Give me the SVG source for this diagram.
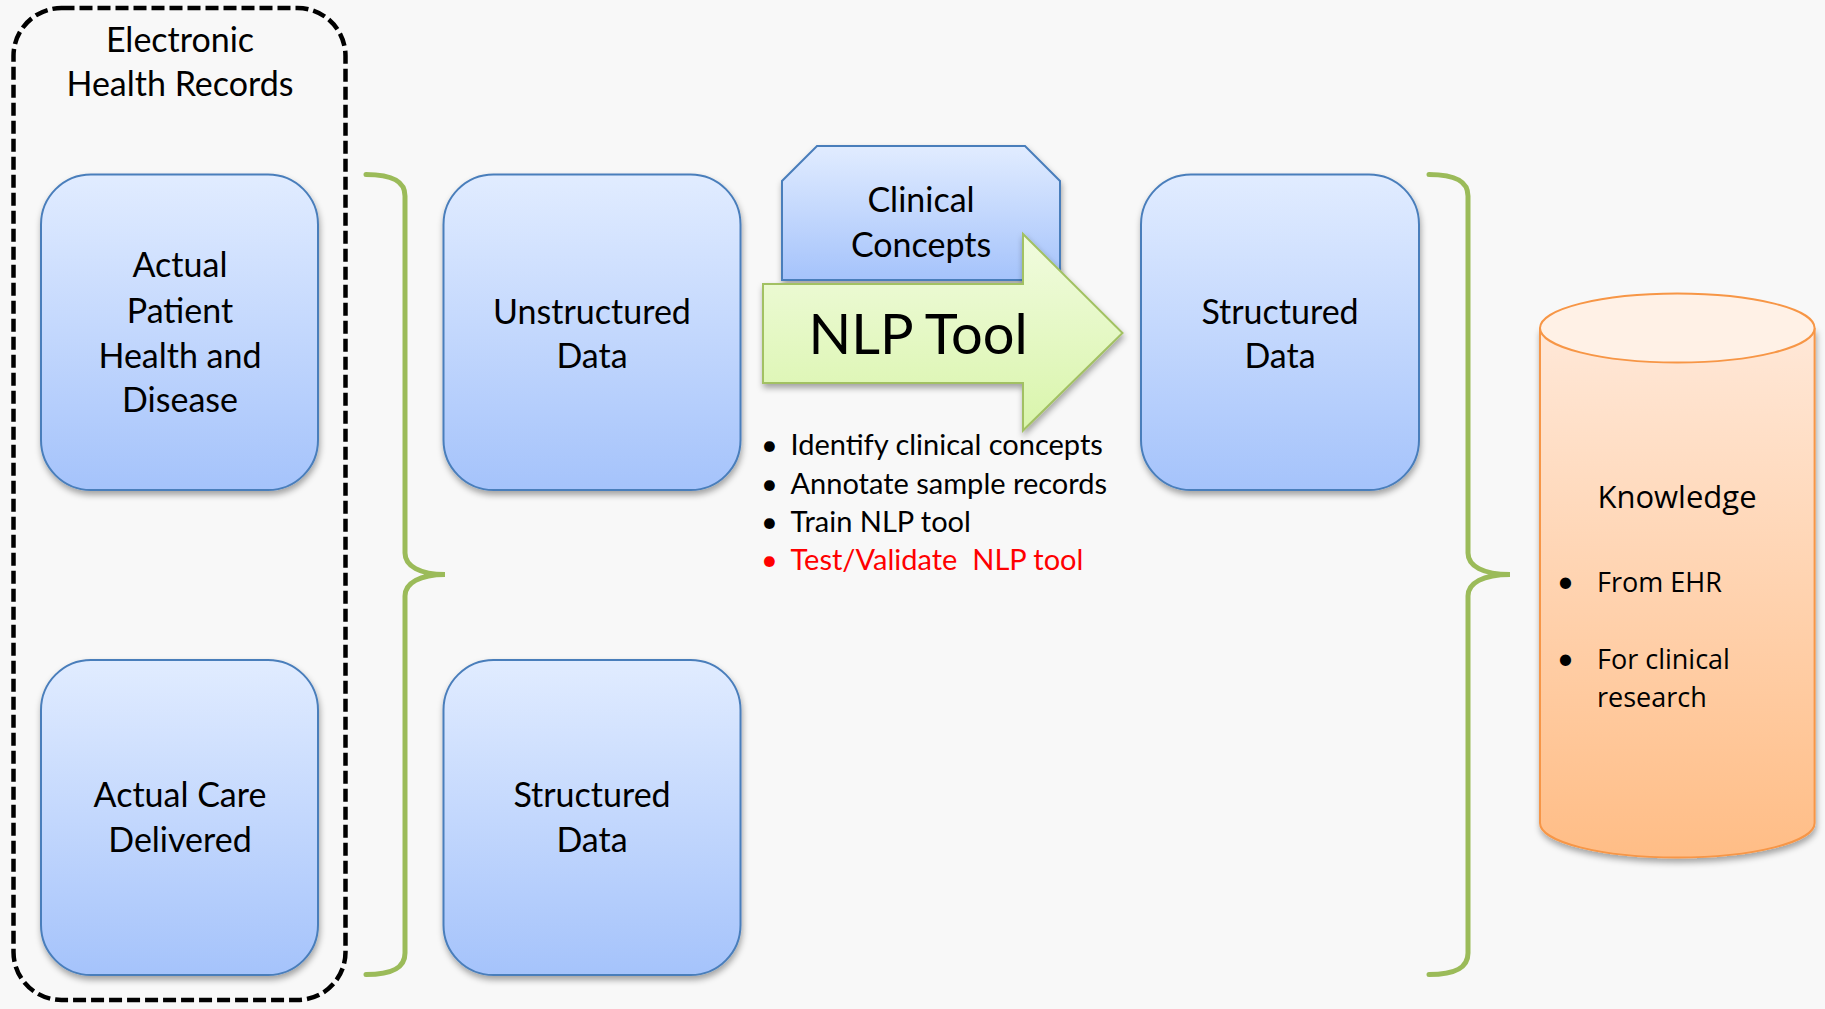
<svg xmlns="http://www.w3.org/2000/svg" width="1825" height="1009" viewBox="0 0 1825 1009">
<defs>
<linearGradient id="blueGrad" x1="0" y1="0" x2="0" y2="1">
<stop offset="0" stop-color="#E1ECFF"/>
<stop offset="1" stop-color="#A5C3FB"/>
</linearGradient>
<linearGradient id="greenGrad" x1="0" y1="0" x2="0" y2="1">
<stop offset="0" stop-color="#F1FBDF"/>
<stop offset="1" stop-color="#D9F5AB"/>
</linearGradient>
<linearGradient id="orangeGrad" x1="0" y1="0" x2="0" y2="1">
<stop offset="0" stop-color="#FFE8D8"/>
<stop offset="1" stop-color="#FFBD86"/>
</linearGradient>
<filter id="shadow" x="-10%" y="-10%" width="125%" height="125%">
<feDropShadow dx="1" dy="4" stdDeviation="3" flood-color="#000" flood-opacity="0.35"/>
</filter>
<style>
.box{fill:url(#blueGrad);stroke:#4A7EBB;stroke-width:2;filter:url(#shadow)}
.lbl{font-family:Lato,"Liberation Sans",sans-serif;font-size:34px;fill:#000;text-anchor:middle}
.brace{fill:none;stroke:#9BBB59;stroke-width:5;stroke-linecap:round}
.bul{font-family:Lato,"Liberation Sans",sans-serif;font-size:29px;fill:#000}
.kn{font-family:"Open Sans","Liberation Sans",sans-serif;fill:#000}
.dot{font-family:Lato,"Liberation Sans",sans-serif;font-size:30px;fill:#000;text-anchor:middle}
</style>
</defs>
<rect width="1825" height="1009" fill="#F8F8F8"/>

<g id="ehr">
<rect x="13.5" y="8" width="332" height="992" rx="48" ry="48" fill="none" stroke="#000" stroke-width="4.5" stroke-dasharray="13 5"/>
<text class="lbl" x="180" y="52">Electronic</text>
<text class="lbl" x="180" y="96">Health Records</text>
</g>

<g id="patient">
<rect class="box" x="41" y="174.5" width="277" height="315.5" rx="50" ry="50"/>
<text class="lbl" x="180" y="277">Actual</text>
<text class="lbl" x="180" y="322.5">Patient</text>
<text class="lbl" x="180" y="367.5">Health and</text>
<text class="lbl" x="180" y="412">Disease</text>
</g>

<g id="care">
<rect class="box" x="41" y="660" width="277" height="315" rx="50" ry="50"/>
<text class="lbl" x="180" y="807">Actual Care</text>
<text class="lbl" x="180" y="852">Delivered</text>
</g>

<g id="unstructured">
<rect class="box" x="443.5" y="174.5" width="297" height="315.5" rx="50" ry="50"/>
<text class="lbl" x="592" y="323.5">Unstructured</text>
<text class="lbl" x="592" y="368">Data</text>
</g>

<g id="structured1">
<rect class="box" x="443.5" y="660" width="297" height="315" rx="50" ry="50"/>
<text class="lbl" x="592" y="807">Structured</text>
<text class="lbl" x="592" y="852">Data</text>
</g>

<g id="concepts">
<polygon class="box" points="782,280 782,181 817,146 1025,146 1060,181 1060,280"/>
<text class="lbl" x="921" y="212">Clinical</text>
<text class="lbl" x="921" y="257">Concepts</text>
</g>

<g id="nlp">
<polygon points="763,284 1023,284 1023,234 1122.5,333 1023,430.5 1023,383 763,383" fill="url(#greenGrad)" stroke="#A2C163" stroke-width="2" filter="url(#shadow)"/>
<text x="918" y="354" font-family="Lato,'Liberation Sans',sans-serif" font-size="56" text-anchor="middle" fill="#000">NLP Tool</text>
</g>

<g id="steps">
<text class="bul" x="769.5" y="455" text-anchor="middle">•</text>
<text class="bul" x="790.5" y="455">Identify clinical concepts</text>
<text class="bul" x="769.5" y="493.5" text-anchor="middle">•</text>
<text class="bul" x="790.5" y="493.5">Annotate sample records</text>
<text class="bul" x="769.5" y="532" text-anchor="middle">•</text>
<text class="bul" x="790.5" y="532">Train NLP tool</text>
<text class="bul" x="769.5" y="570" text-anchor="middle" style="fill:#FF0000">•</text>
<text class="bul" x="790.5" y="570" style="fill:#FF0000;white-space:pre" xml:space="preserve">Test/Validate  NLP tool</text>
</g>

<g id="structured2">
<rect class="box" x="1141" y="174.5" width="278" height="315.5" rx="50" ry="50"/>
<text class="lbl" x="1280" y="323.5">Structured</text>
<text class="lbl" x="1280" y="368">Data</text>
</g>

<g id="knowledge">
<path d="M1540,328 L1540,823 A137.3,34.5 0 0 0 1814.6,823 L1814.6,328" fill="url(#orangeGrad)" stroke="#F79646" stroke-width="2" filter="url(#shadow)"/>
<ellipse cx="1677.3" cy="328" rx="137.3" ry="34.5" fill="#FFF1E6" stroke="#F79646" stroke-width="2"/>
<text class="kn" x="1677" y="508" font-size="31" text-anchor="middle">Knowledge</text>
<text class="dot" x="1565.5" y="592">•</text>
<text class="kn" x="1597" y="592" font-size="27">From EHR</text>
<text class="dot" x="1565.5" y="669">•</text>
<text class="kn" x="1597" y="669" font-size="27">For clinical</text>
<text class="kn" x="1597" y="707" font-size="27">research</text>
</g>

<g id="connectors">
<path class="brace" d="M366,174.5 C392,174.5 405,181 405,196 L405,553 C405,566 420,574.5 445,574.5 C420,574.5 405,583 405,596 L405,953 C405,968 392,974.5 366,974.5"/>
<path class="brace" d="M1429,174.5 C1455,174.5 1468,181 1468,196 L1468,553 C1468,566 1483,574.5 1510,574.5 C1483,574.5 1468,583 1468,596 L1468,953 C1468,968 1455,974.5 1429,974.5"/>
</g>
</svg>
